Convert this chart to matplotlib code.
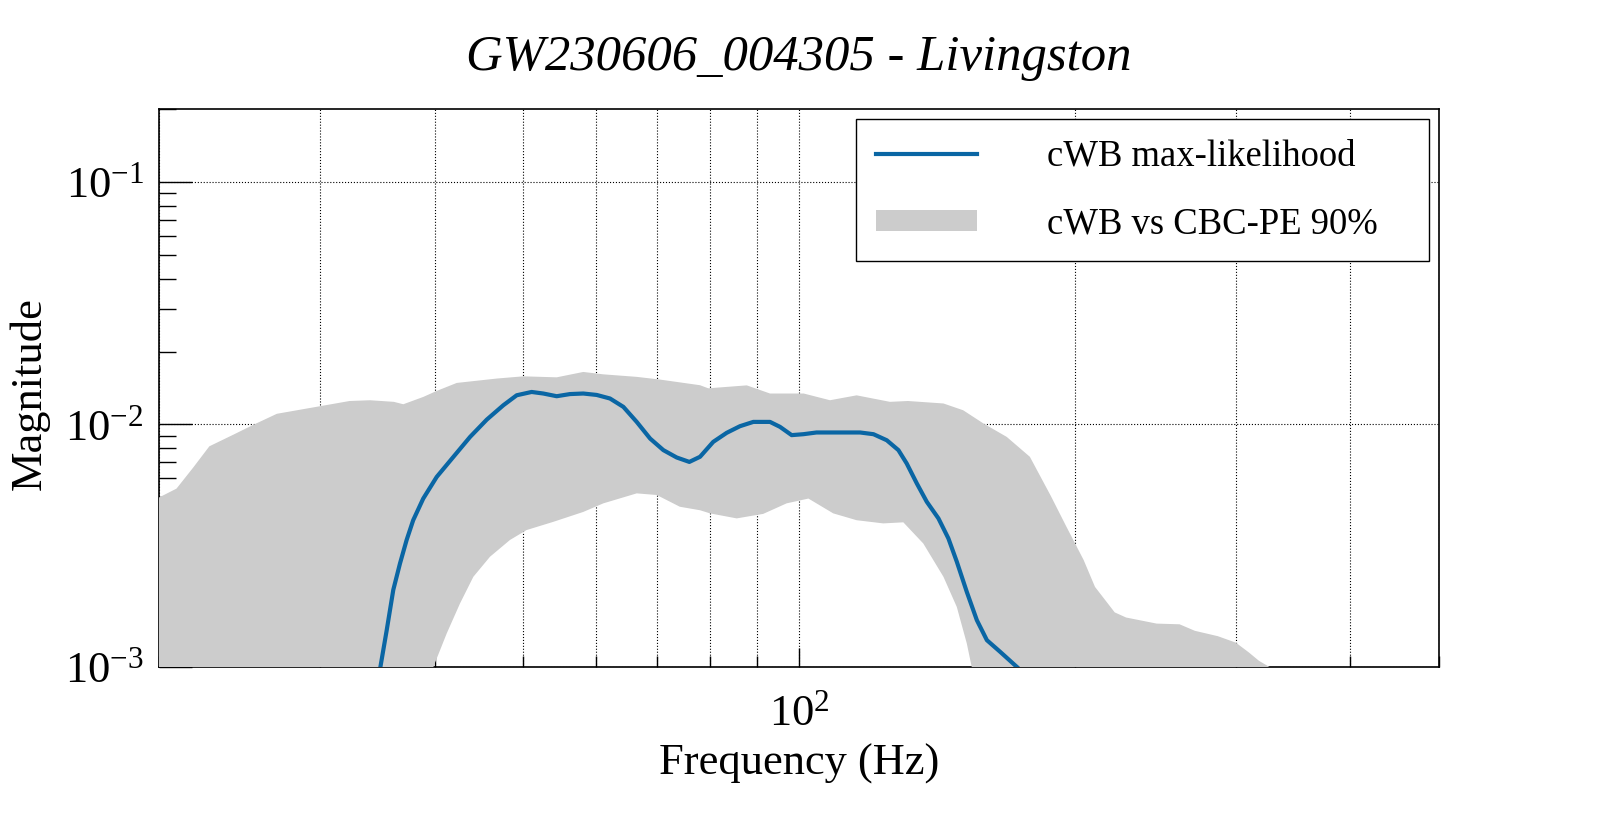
import numpy as np
import matplotlib
matplotlib.use("Agg")
import matplotlib.pyplot as plt
from matplotlib.ticker import LogLocator, NullFormatter, FuncFormatter

plt.rcParams['font.family'] = ['Liberation Serif', 'DejaVu Serif']
plt.rcParams['mathtext.fontset'] = 'custom'
plt.rcParams['mathtext.rm'] = 'Liberation Serif'
plt.rcParams['mathtext.it'] = 'Liberation Serif:italic'

# cWB max-likelihood waveform (frequency Hz, magnitude)
f_ml = [34.9, 35.46, 36.05, 36.66, 37.28, 37.9, 38.87, 40.21, 41.94, 43.73,
        45.61, 47.55, 49.17, 51.05, 52.57, 54.37, 56.22, 58.13, 60.12, 62.17,
        64.3, 66.49, 68.77, 71.1, 73.53, 75.9, 77.97, 80.6, 83.37, 86.2,
        89.15, 92.97, 95.33, 98.17, 101.1, 104.5, 110.8, 116.6, 120.6, 124.7,
        128.4, 131.1, 134.5, 137.9, 142.0, 145.6, 148.7, 152.5, 156.4, 160.4,
        165.8, 173.0]
v_ml = [1.0e-3, 1.42e-3, 2.08e-3, 2.67e-3, 3.34e-3, 4.03e-3, 4.95e-3, 6.08e-3, 7.36e-3, 8.89e-3,
        1.048e-2, 1.201e-2, 1.32e-2, 1.362e-2, 1.342e-2, 1.308e-2, 1.335e-2, 1.342e-2, 1.324e-2, 1.28e-2,
        1.182e-2, 1.025e-2, 8.75e-3, 7.84e-3, 7.31e-3, 7.01e-3, 7.36e-3, 8.48e-3, 9.24e-3, 9.84e-3,
        1.025e-2, 1.025e-2, 9.78e-3, 9.04e-3, 9.12e-3, 9.27e-3, 9.27e-3, 9.27e-3, 9.12e-3, 8.61e-3,
        7.84e-3, 6.91e-3, 5.71e-3, 4.80e-3, 4.10e-3, 3.39e-3, 2.72e-3, 2.04e-3, 1.56e-3, 1.29e-3,
        1.156e-3, 1.0e-3]

# 90% band, upper edge
f_hi = [20.0, 20.9, 21.8, 22.7, 24.1, 25.3, 26.9, 30.0, 32.3, 34.0,
        36.1, 36.97, 38.87, 40.2, 42.29, 46.77, 50.0, 54.37, 58.13, 61.14,
        66.49, 70.5, 77.97, 79.6, 87.7, 92.97, 101.2, 108.1, 115.6, 125.7,
        131.5, 143.8, 151.1, 159.0, 168.6, 178.7, 188.4, 195.9, 204.6, 210.5,
        221.2, 227.6, 245.8, 260.4, 270.6, 286.7, 300.0, 309.8, 318.0, 326.5,
        335.0]
v_hi = [5.0e-3, 5.44e-3, 6.65e-3, 8.13e-3, 9.07e-3, 9.93e-3, 1.107e-2, 1.19e-2, 1.25e-2, 1.259e-2,
        1.24e-2, 1.212e-2, 1.299e-2, 1.375e-2, 1.484e-2, 1.547e-2, 1.58e-2, 1.565e-2, 1.647e-2, 1.61e-2,
        1.572e-2, 1.532e-2, 1.452e-2, 1.41e-2, 1.45e-2, 1.342e-2, 1.342e-2, 1.259e-2, 1.319e-2, 1.24e-2,
        1.25e-2, 1.221e-2, 1.145e-2, 1.01e-2, 8.89e-3, 7.36e-3, 5.07e-3, 3.79e-3, 2.76e-3, 2.14e-3,
        1.68e-3, 1.60e-3, 1.51e-3, 1.50e-3, 1.41e-3, 1.34e-3, 1.26e-3, 1.15e-3, 1.06e-3, 1.0e-3,
        8e-4]

# 90% band, lower edge (below 1e-3 outside 40-155 Hz)
f_lo = [20.0, 39.0, 39.87, 41.24, 42.64, 44.09, 45.98, 48.34, 50.4, 53.93,
        58.13, 61.14, 66.49, 69.93, 74.1, 77.97, 79.96, 85.5, 91.4, 96.94,
        102.4, 109.0, 115.6, 123.6, 130.0, 136.7, 143.8, 148.7, 152.5, 154.4,
        160.0, 335.0]
v_lo = [8e-4, 8e-4, 1.0e-3, 1.377e-3, 1.83e-3, 2.355e-3, 2.85e-3, 3.34e-3, 3.67e-3, 3.97e-3,
        4.36e-3, 4.73e-3, 5.20e-3, 5.12e-3, 4.58e-3, 4.43e-3, 4.30e-3, 4.10e-3, 4.28e-3, 4.73e-3,
        4.95e-3, 4.30e-3, 4.03e-3, 3.91e-3, 3.95e-3, 3.23e-3, 2.355e-3, 1.77e-3, 1.25e-3, 1.0e-3,
        8e-4, 8e-4]

title = "GW230606_004305 - Livingston"

fig = plt.figure(figsize=(15.99, 8.13), dpi=100)
ax = fig.add_axes([159/1599, 146/813, 1280/1599, 558/813])

band_x = f_hi + f_lo[::-1]
band_y = v_hi + v_lo[::-1]
ax.fill(band_x, band_y, color='#cccccc', lw=0, zorder=3, label='cWB vs CBC-PE 90%')
ax.plot(f_ml, v_ml, color='#0a66a4', lw=3, zorder=4, label='cWB max-likelihood')

ax.set_xscale('log')
ax.set_yscale('log')
ax.set_xlim(20, 500)
ax.set_ylim(1e-3, 0.2)

ax.xaxis.set_major_locator(LogLocator(base=10))
ax.xaxis.set_minor_locator(LogLocator(base=10, subs=np.arange(2, 10)))
ax.yaxis.set_major_locator(LogLocator(base=10))
ax.yaxis.set_minor_locator(LogLocator(base=10, subs=np.arange(2, 10)))
fmt = FuncFormatter(lambda v, p: r'$\mathdefault{10^{%d}}$' % round(np.log10(v)))
ax.xaxis.set_major_formatter(fmt)
ax.yaxis.set_major_formatter(fmt)
ax.xaxis.set_minor_formatter(NullFormatter())
ax.yaxis.set_minor_formatter(NullFormatter())

ax.tick_params(axis='both', which='both', direction='in', top=False, right=False,
               labelsize=32, width=1)
ax.tick_params(axis='x', which='major', length=14, pad=20)
ax.tick_params(axis='x', which='minor', length=8)
ax.tick_params(axis='y', which='major', length=24, pad=11)
ax.tick_params(axis='y', which='minor', length=12)

ax.set_axisbelow(True)
ax.grid(True, which='major', axis='both', color='black', ls=':', lw=0.8)
ax.grid(True, which='minor', axis='x', color='black', ls=':', lw=0.8)
for s in ax.spines.values():
    s.set_linewidth(1.2)

ax.set_xlabel('Frequency (Hz)', fontsize=32)
ax.set_ylabel('Magnitude', fontsize=32)
ax.xaxis.set_label_coords(0.5, -0.138)
ax.yaxis.set_label_coords(-0.085, 0.49)

fig.text(0.4997, 0.914, title, fontsize=36.5, style='italic', ha='center', va='baseline')

handles, labels = ax.get_legend_handles_labels()
leg = ax.legend(handles[::-1], labels[::-1], loc='upper left',
                bbox_to_anchor=(0.5445, 0.982, 0.4477, 0.0), mode='expand',
                borderaxespad=0, fontsize=26.4, fancybox=False, framealpha=1,
                edgecolor='black', handlelength=2.75, handleheight=0.52,
                handletextpad=1.9, labelspacing=0.9, borderpad=0.55)
leg.get_frame().set_linewidth(1.0)

fig.savefig('out.png', dpi=100)
